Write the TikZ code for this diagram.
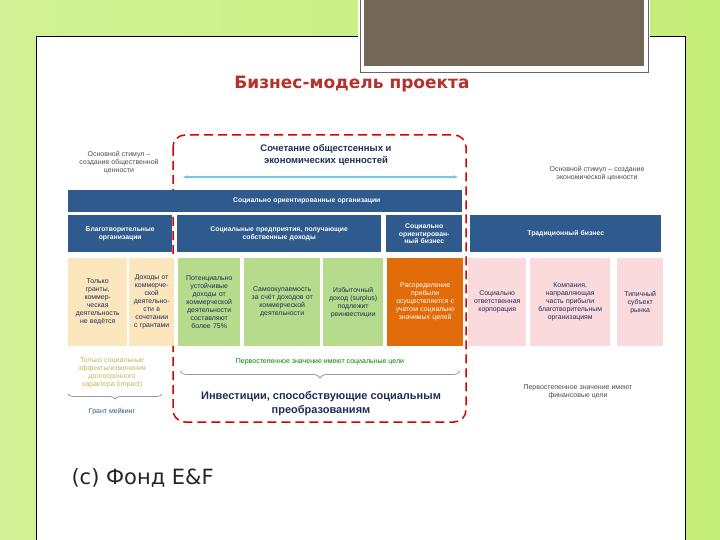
\documentclass[tikz,border=0pt]{standalone}
\usepackage{fontspec}
\setmainfont{Liberation Sans}
\newfontfamily\cfont{DejaVu Sans}
\usetikzlibrary{decorations.pathreplacing,arrows.meta}
\definecolor{bgreen}{HTML}{C6EE7A}
\definecolor{navy}{HTML}{2F5A8E}
\definecolor{dnavy}{HTML}{1F2F55}
\definecolor{yel}{HTML}{FCE6BE}
\definecolor{grn}{HTML}{B6DB8C}
\definecolor{org}{HTML}{E36C0A}
\definecolor{pnk}{HTML}{FADADD}
\definecolor{ttl}{HTML}{B8302A}
\definecolor{brown}{HTML}{736858}
\tikzset{
 bar/.style={fill=navy,text=white,font=\fontsize{6.8}{7.8}\selectfont\bfseries,align=center,inner sep=1pt},
 cell/.style={align=center,inner sep=1pt,font=\fontsize{6.9}{8}\selectfont,text=dnavy},
 sm/.style={align=center,font=\fontsize{7}{8}\selectfont,text=black!70},
}
\begin{document}
\begin{tikzpicture}[x=1pt,y=-1pt]
\useasboundingbox (0,0) rectangle (720,540);
\shade[left color=bgreen!80!white,right color=bgreen] (0,0) rectangle (720,540);
\fill[white] (36,36) rectangle (685,540);
\draw[black,line width=0.8pt] (36,36) -- (685,36) (36,36) -- (36,540) (685,36) -- (685,540);
\fill[white] (358,0) rectangle (650,73);
\draw[black!60] (360,0) -- (360,72) -- (648,72) -- (648,0);
\fill[brown] (364,0) rectangle (644,66);
\node[font=\cfont\fontsize{17}{19}\selectfont\bfseries,text=ttl] (title) at (352,84) {Бизнес-модель проекта};
% red dashed box
\draw[red!85!black,line width=1.5pt,dash pattern=on 9pt off 5pt,rounded corners=12pt] (173,135) rectangle (466,422);
\node[font=\fontsize{9.5}{11.5}\selectfont\bfseries,text=dnavy,align=center] (head) at (326,155) {Сочетание общестсенных и\\экономических ценностей};
\coordinate (al) at (183,177); \coordinate (ar) at (458,177);
\draw[{Stealth[length=5pt]}-{Stealth[length=5pt]},color=navy!55!cyan!60!white,line width=1.4pt] (al) -- (ar);
\node[sm] (lstim) at (119,163) {Основной стимул –\\создание общественной\\ценности};
\node[sm] (rstim) at (597,174) {Основной стимул – создание\\экономической ценности};
% bars
\node[bar,minimum width=394pt,minimum height=22pt,anchor=north west,align=left,text width=280pt] (b1) at (68,190) {\hspace*{108pt}Социально ориентированные организации};
\node[bar,minimum width=104pt,minimum height=37pt,anchor=north west,text width=100pt] (b2) at (68,215) {Благотворительные\\организации};
\node[bar,minimum width=204pt,minimum height=37pt,anchor=north west,text width=200pt] (b3) at (177,215) {Социальные предприятия, получающие\\собственные доходы};
\node[bar,minimum width=76pt,minimum height=37pt,anchor=north west,text width=72pt] (b4) at (386,215) {Социально\\ориентирован-\\ный бизнес};
\node[bar,minimum width=191pt,minimum height=37pt,anchor=north west,text width=185pt] (b5) at (470,215) {Традиционный бизнес};
% cells
\def\mk#1#2#3#4#5#6{\node[cell,fill=#4,minimum width=#3pt,minimum height=88pt,anchor=north west,text width=#3pt,#5] (#1) at (#2,258) {#6};}
\mk{c1}{68}{57}{yel}{}{Только\\гранты,\\коммер-\\ческая\\деятельность\\не ведётся}
\mk{c2}{129}{43}{yel}{}{Доходы от\\коммерче-\\ской\\деятельно-\\сти в\\сочетании\\с грантами}
\mk{c3}{178}{60}{grn}{}{Потенциально\\устойчивые\\доходы от\\коммерческой\\деятельности\\составляют\\более 75\%}
\mk{c4}{244}{74}{grn}{}{Самоокупаемость\\за счёт доходов от\\коммерческой\\деятельности}
\mk{c5}{323}{58}{grn}{}{Избыточный\\доход (surplus)\\подлежит\\реинвестиции}
\mk{c6}{387}{74}{org}{text=white}{Распределение\\прибыли\\осуществляется с\\учетом социально\\значимых целей}
\mk{c7}{468}{56}{pnk}{}{Социально\\ответственная\\корпорация}
\mk{c8}{530}{78}{pnk}{}{Компания,\\направляющая\\часть прибыли\\благотворительным\\организациям}
\mk{c9}{617}{44}{pnk}{}{Типичный\\субъект\\рынка}
% bottom
\node[sm,text=yellow!50!brown] (imp) at (112,373) {Только социальные\\эффекты/изменения\\долгосрочного\\характера (impact)};
\draw[decorate,decoration={brace,mirror,amplitude=5pt},black!40,line width=0.8pt] (68,394) -- (162,394);
\node[sm,text=navy] (gm) at (112,412) {Грант мейкинг};
\node[sm,text=green!50!black] (soc) at (320,362) {Первостепенное значение имеют социальные цели};
\draw[decorate,decoration={brace,mirror,amplitude=7pt},black!40,line width=0.8pt] (180,371) -- (460,371);
\node[font=\fontsize{11}{14}\selectfont\bfseries,text=dnavy,align=center] (inv) at (321,404) {Инвестиции, способствующие социальным\\преобразованиям};
\node[sm] (fin) at (578,392) {Первостепенное значение имеют\\финансовые цели};
\node[font=\cfont\fontsize{21}{23}\selectfont,anchor=west,text=black!85] (cp) at (68,478) {(с) Фонд E\&F};
\end{tikzpicture}
\end{document}
